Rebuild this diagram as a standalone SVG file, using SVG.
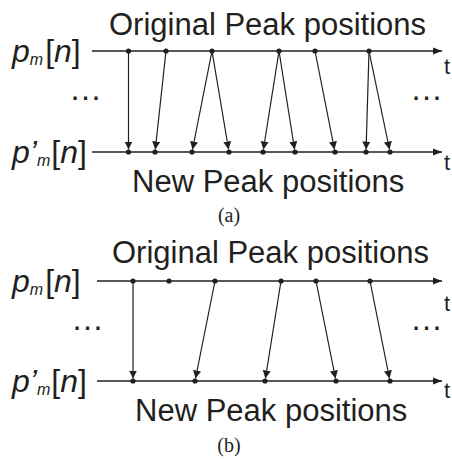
<svg xmlns="http://www.w3.org/2000/svg" width="452" height="459" viewBox="0 0 452 459">
<style>
.ax{stroke:#231f20;stroke-width:1.3;fill:none;marker-end:url(#axh)}
.cn{stroke:#231f20;stroke-width:1.2;fill:none;marker-end:url(#ah)}
.dot{fill:#231f20}
.title{font-family:"Liberation Sans",Arial,sans-serif;font-size:31px;fill:#231f20}
.lbl{font-family:"Liberation Sans",Arial,sans-serif;font-size:32px;fill:#231f20}
.it{font-style:italic}
.sub{font-style:italic;font-size:16px}
.t{font-family:"Liberation Sans",Arial,sans-serif;font-size:22px;fill:#231f20}
.dots{font-family:"Liberation Sans",Arial,sans-serif;font-size:33px;fill:#231f20}
.cap{font-family:"Liberation Serif","Times New Roman",serif;font-size:20px;fill:#231f20;text-anchor:middle}
</style>
<defs>
<marker id="axh" markerUnits="userSpaceOnUse" markerWidth="10" markerHeight="8" refX="9" refY="4" orient="auto">
<path d="M0,0.4 L9,4 L0,7.6 Z" fill="#231f20"/>
</marker>
<marker id="ah" markerUnits="userSpaceOnUse" markerWidth="9" markerHeight="9" refX="8" refY="4" orient="auto">
<path d="M0,0 L8,4 L0,8 Z" fill="#231f20"/>
</marker>
</defs>

<g id="panel-a">
  <g id="a-title"><text class="title" x="109" y="35">Original Peak positions</text></g>
  <g id="a-top-label"><text class="lbl" x="12" y="62"><tspan class="it">p</tspan><tspan class="sub" dy="3">m</tspan><tspan dx="2" dy="-3">[</tspan><tspan class="it">n</tspan><tspan>]</tspan></text></g>
  <g id="a-bottom-label"><text class="lbl" x="12" y="163"><tspan class="it">p’</tspan><tspan class="sub" dy="3">m</tspan><tspan dx="1" dy="-3">[</tspan><tspan class="it">n</tspan><tspan>]</tspan></text></g>
  <g id="a-dots"><text class="dots" x="69" y="100">…</text><text class="dots" x="410" y="100">…</text></g>
  <g id="a-t"><text class="t" x="444" y="74">t</text><text class="t" x="444" y="170">t</text></g>
  <g id="a-subtitle"><text class="title" x="132" y="192">New Peak positions</text></g>
  <g id="a-caption"><text class="cap" x="229" y="222">(a)</text></g>
  <g id="a-axes">
    <line class="ax" x1="92" y1="51" x2="442" y2="51"/>
    <line class="ax" x1="92" y1="152" x2="442" y2="152"/>
  </g>
  <g id="a-connectors">
    <line class="cn" x1="128.5" y1="51" x2="128.5" y2="149.5"/>
    <line class="cn" x1="166" y1="51" x2="155.3" y2="149.5"/>
    <line class="cn" x1="212" y1="51" x2="192.5" y2="149.5"/>
    <line class="cn" x1="212" y1="51" x2="228.6" y2="149.5"/>
    <line class="cn" x1="279" y1="51" x2="263.4" y2="149.5"/>
    <line class="cn" x1="279" y1="51" x2="294.6" y2="149.5"/>
    <line class="cn" x1="315" y1="51" x2="334.5" y2="149.5"/>
    <line class="cn" x1="369" y1="51" x2="366.1" y2="149.5"/>
    <line class="cn" x1="369" y1="51" x2="389.5" y2="149.5"/>
  </g>
  <g id="a-top-peaks">
    <circle class="dot" cx="128.5" cy="51" r="2.6"/>
    <circle class="dot" cx="166" cy="51" r="2.6"/>
    <circle class="dot" cx="212" cy="51" r="2.6"/>
    <circle class="dot" cx="279" cy="51" r="2.6"/>
    <circle class="dot" cx="315" cy="51" r="2.6"/>
    <circle class="dot" cx="369" cy="51" r="2.6"/>
  </g>
  <g id="a-new-peaks">
    <circle class="dot" cx="128.5" cy="152" r="2.6"/>
    <circle class="dot" cx="155" cy="152" r="2.6"/>
    <circle class="dot" cx="192" cy="152" r="2.6"/>
    <circle class="dot" cx="229" cy="152" r="2.6"/>
    <circle class="dot" cx="263" cy="152" r="2.6"/>
    <circle class="dot" cx="295" cy="152" r="2.6"/>
    <circle class="dot" cx="335" cy="152" r="2.6"/>
    <circle class="dot" cx="366" cy="152" r="2.6"/>
    <circle class="dot" cx="390" cy="152" r="2.6"/>
  </g>
</g>

<g id="panel-b">
  <g id="b-title"><text class="title" x="112" y="263">Original Peak positions</text></g>
  <g id="b-top-label"><text class="lbl" x="12" y="292"><tspan class="it">p</tspan><tspan class="sub" dy="3">m</tspan><tspan dx="2" dy="-3">[</tspan><tspan class="it">n</tspan><tspan>]</tspan></text></g>
  <g id="b-bottom-label"><text class="lbl" x="12" y="392"><tspan class="it">p’</tspan><tspan class="sub" dy="3">m</tspan><tspan dx="1" dy="-3">[</tspan><tspan class="it">n</tspan><tspan>]</tspan></text></g>
  <g id="b-dots"><text class="dots" x="71" y="330">…</text><text class="dots" x="410" y="330">…</text></g>
  <g id="b-t"><text class="t" x="444" y="311">t</text><text class="t" x="444" y="398">t</text></g>
  <g id="b-subtitle"><text class="title" x="135" y="421">New Peak positions</text></g>
  <g id="b-caption"><text class="cap" x="229" y="452">(b)</text></g>
  <g id="b-axes">
    <line class="ax" x1="97" y1="281" x2="442" y2="281"/>
    <line class="ax" x1="97" y1="381" x2="442" y2="381"/>
  </g>
  <g id="b-connectors">
    <line class="cn" x1="133" y1="281" x2="133" y2="378.5"/>
    <line class="cn" x1="215" y1="281" x2="195.5" y2="378.5"/>
    <line class="cn" x1="281" y1="281" x2="265.4" y2="378.5"/>
    <line class="cn" x1="316" y1="281" x2="335.5" y2="378.5"/>
    <line class="cn" x1="370" y1="281" x2="389.5" y2="378.5"/>
  </g>
  <g id="b-top-peaks">
    <circle class="dot" cx="133" cy="281" r="2.6"/>
    <circle class="dot" cx="169" cy="281" r="2.6"/>
    <circle class="dot" cx="215" cy="281" r="2.6"/>
    <circle class="dot" cx="281" cy="281" r="2.6"/>
    <circle class="dot" cx="316" cy="281" r="2.6"/>
    <circle class="dot" cx="370" cy="281" r="2.6"/>
  </g>
  <g id="b-new-peaks">
    <circle class="dot" cx="133" cy="381" r="2.6"/>
    <circle class="dot" cx="195" cy="381" r="2.6"/>
    <circle class="dot" cx="265" cy="381" r="2.6"/>
    <circle class="dot" cx="336" cy="381" r="2.6"/>
    <circle class="dot" cx="390" cy="381" r="2.6"/>
  </g>
</g>
</svg>
